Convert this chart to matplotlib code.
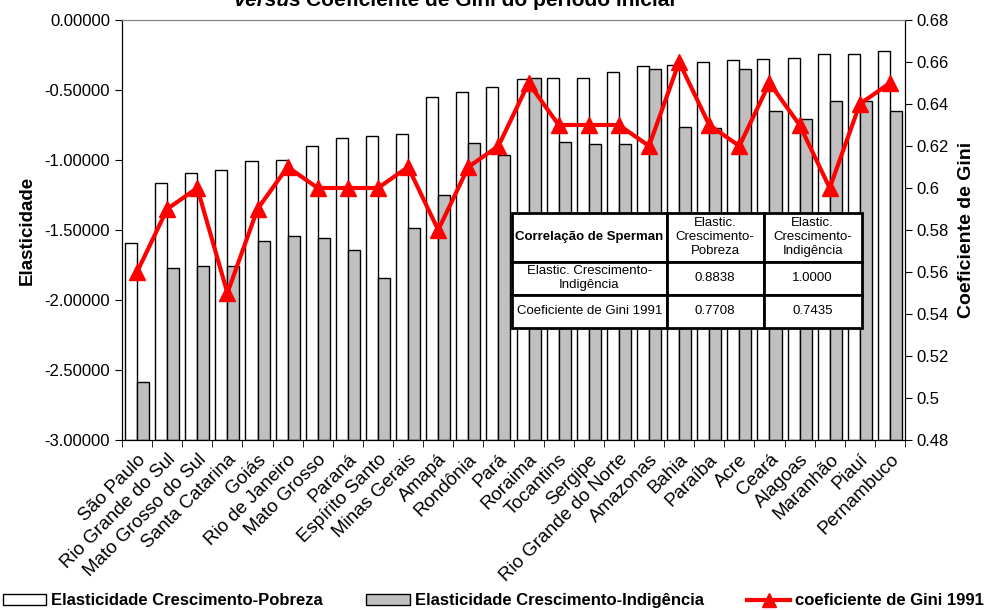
import matplotlib.pyplot as plt
from matplotlib.patches import Patch
from matplotlib.lines import Line2D
import numpy as np

plt.rcParams['font.family'] = ['Liberation Sans', 'DejaVu Sans']

estados = ['São Paulo', 'Rio Grande do Sul', 'Mato Grosso do Sul', 'Santa Catarina',
           'Goiás', 'Rio de Janeiro', 'Mato Grosso', 'Paraná', 'Espírito Santo',
           'Minas Gerais', 'Amapá', 'Rondônia', 'Pará', 'Roraima', 'Tocantins',
           'Sergipe', 'Rio Grande do Norte', 'Amazonas', 'Bahia', 'Paraíba', 'Acre',
           'Ceará', 'Alagoas', 'Maranhão', 'Piauí', 'Pernambuco']

elast_pobreza = [-1.595, -1.162, -1.090, -1.071, -1.005, -1.000, -0.900, -0.840,
                 -0.831, -0.814, -0.552, -0.517, -0.481, -0.424, -0.412, -0.412,
                 -0.369, -0.326, -0.324, -0.298, -0.288, -0.279, -0.269, -0.245,
                 -0.243, -0.221]
elast_indigencia = [-2.583, -1.774, -1.760, -1.760, -1.579, -1.540, -1.555, -1.643,
                    -1.845, -1.483, -1.252, -0.881, -0.964, -0.417, -0.874, -0.883,
                    -0.888, -0.350, -0.762, -0.769, -0.348, -0.652, -0.705, -0.581,
                    -0.581, -0.648]
gini_1991 = [0.56, 0.59, 0.60, 0.55, 0.59, 0.61, 0.60, 0.60, 0.60, 0.61, 0.58, 0.61,
             0.62, 0.65, 0.63, 0.63, 0.63, 0.62, 0.66, 0.63, 0.62, 0.65, 0.63, 0.60,
             0.64, 0.65]

tab_cols = ['Correlação de Sperman', 'Elastic.\nCrescimento-\nPobreza',
            'Elastic.\nCrescimento-\nIndigência']
tab_rows = [['Elastic. Crescimento-\nIndigência', '0.8838', '1.0000'],
            ['Coeficiente de Gini 1991', '0.7708', '0.7435']]

fig = plt.figure(figsize=(9.87, 6.10), dpi=100)
ax = fig.add_axes([122 / 987, 1 - 440 / 610, 783 / 987, 420 / 610])

base = -3.0
x = np.arange(len(estados))
w = 0.4
ax.bar(x - w / 2, np.array(elast_pobreza) - base, w, bottom=base, color='white',
       edgecolor='black', linewidth=1)
ax.bar(x + w / 2, np.array(elast_indigencia) - base, w, bottom=base, color='#c0c0c0',
       edgecolor='black', linewidth=1)
ax.set_ylim(-3, 0)
ax.set_xlim(-0.5, len(estados) - 0.5)
ax.set_yticks(np.arange(-3, 0.01, 0.5))
ax.yaxis.set_major_formatter(plt.FuncFormatter(lambda v, p: f'{v:.5f}'))
ax.set_xticks(x)
ax.set_xticklabels(estados, rotation=45, ha='right', rotation_mode='anchor', fontsize=13.5)
ax.set_xticks(np.arange(-0.5, len(estados), 1), minor=True)
ax.tick_params(axis='x', which='major', length=0, pad=8)
ax.tick_params(axis='x', which='minor', length=5)
ax.tick_params(axis='y', labelsize=12, length=5)
ax.set_ylabel('Elasticidade', fontsize=13.5, fontweight='bold', labelpad=6)
ax.spines['top'].set_color('#808080')

ax2 = ax.twinx()
ax2.plot(x, gini_1991, color='red', linewidth=3, marker='^', markersize=11)
ax2.set_ylim(0.48, 0.68)
ax2.set_yticks(np.arange(0.48, 0.681, 0.02))
ax2.yaxis.set_major_formatter(plt.FuncFormatter(lambda v, p: f'{round(v, 2):g}'))
ax2.tick_params(axis='y', labelsize=12, length=5)
ax2.set_ylabel('Coeficiente de Gini', fontsize=14, fontweight='bold', labelpad=6)
ax2.spines['top'].set_color('#808080')

tbl = ax2.table(cellText=[tab_cols] + tab_rows, cellLoc='center',
                colWidths=[155, 97, 98],
                bbox=[(511.7 - 122) / 783, (440 - 327.7) / 420, 350 / 783, 115 / 420])
tbl.auto_set_font_size(False)
tbl.set_zorder(10)
heights = [49 / 115, 33.3 / 115, 32.7 / 115]
for (r, c), cell in tbl.get_celld().items():
    cell.set_linewidth(2)
    cell.set_facecolor('white')
    cell.get_text().set_fontsize(9.5)
    cell.set_height(heights[r] * 115 / 420)
    if r == 0 and c == 0:
        cell.get_text().set_fontweight('bold')

fig.text(0.305, 0.99, 'Versus', fontsize=15, fontweight='bold', fontstyle='italic',
         ha='right', va='baseline')
fig.text(0.31, 0.99, 'Coeficiente de Gini do período inicial', fontsize=15,
         fontweight='bold', ha='left', va='baseline')

handles = [Patch(facecolor='white', edgecolor='black'),
           Patch(facecolor='#c0c0c0', edgecolor='black'),
           Line2D([], [], color='red', linewidth=3, marker='^', markersize=10)]
labels = ['Elasticidade Crescimento-Pobreza', 'Elasticidade Crescimento-Indigência',
          'coeficiente de Gini 1991']
fig.legend(handles, labels, loc='lower center', bbox_to_anchor=(0.5, -0.022), ncol=3,
           frameon=False, prop={'size': 12, 'weight': 'bold'}, handlelength=2.6,
           handletextpad=0.3, columnspacing=2.6)

fig.savefig('out.png', dpi=100)
